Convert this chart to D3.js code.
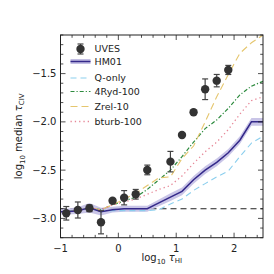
<!DOCTYPE html>
<html lang="en">
<head>
<meta charset="UTF-8">
<title>median tau CIV</title>
<script src="https://cdn.jsdelivr.net/npm/d3@7"></script>
<style>
  html, body { margin: 0; background: #fff; }
  svg { display: block; font-family: "DejaVu Sans", sans-serif; }
</style>
</head>
<body>
<svg id="chart" width="274" height="274"></svg>
<script>
// UVES observations
const uvesX = [-0.9, -0.7, -0.5, -0.3, -0.1, 0.1, 0.3, 0.5, 0.9, 1.1, 1.3, 1.5, 1.7, 1.9];
const uvesY = [-2.947, -2.913, -2.895, -3.04, -2.817, -2.786, -2.75, -2.498, -2.412, -2.136, -1.90, -1.662, -1.573, -1.462];
const uvesErr = [0.07, 0.083, 0.035, 0.12, 0.02, 0.074, 0.05, 0.05, 0.106, 0.02, 0.02, 0.107, 0.064, 0.047];

// model curves share one x grid
const modelX = [-1.0, -0.9, -0.7, -0.5, -0.3, -0.1, 0.1, 0.3, 0.5, 0.7, 0.9, 1.1, 1.3, 1.5, 1.7, 1.9, 2.1, 2.3, 2.5];
const hm01 = [-2.93, -2.93, -2.92, -2.89, -2.93, -2.91, -2.90, -2.90, -2.90, -2.84, -2.78, -2.72, -2.60, -2.50, -2.42, -2.32, -2.19, -2.00, -2.00];
const hm01Err = [0.03, 0.03, 0.035, 0.05, 0.04, 0.03, 0.03, 0.03, 0.03, 0.035, 0.04, 0.04, 0.04, 0.04, 0.04, 0.04, 0.04, 0.04, 0.04];
const qOnly = [-2.93, -2.93, -2.92, -2.89, -2.93, -2.92, -2.92, -2.92, -2.92, -2.91, -2.85, -2.80, -2.71, -2.64, -2.57, -2.51, -2.36, -2.22, -2.15];
const ryd4 = [-2.93, -2.93, -2.92, -2.89, -2.91, -2.86, -2.82, -2.78, -2.70, -2.60, -2.50, -2.36, -2.21, -2.07, -1.98, -1.86, -1.72, -1.63, -1.58];
const zrel = [-2.93, -2.93, -2.92, -2.89, -2.91, -2.86, -2.80, -2.74, -2.66, -2.58, -2.57, -2.38, -2.25, -2.00, -1.74, -1.51, -1.29, -1.18, -1.10];
const bturb = [-2.93, -2.93, -2.92, -2.89, -2.91, -2.86, -2.83, -2.80, -2.75, -2.70, -2.66, -2.56, -2.43, -2.31, -2.21, -2.08, -1.92, -1.78, -1.74];

const refLevel = -2.9;

const xTicks = [-1, 0, 1, 2];
const yTicks = [-3.0, -2.5, -2.0, -1.5];

const svg = d3.select('#chart');
const margin = {top: 35, left: 60.5, right: 11, bottom: 36.3};
const width = 274, height = 274;
const innerWidth = width - margin.left - margin.right;
const innerHeight = height - margin.top - margin.bottom;

const x = d3.scaleLinear().domain([-1, 2.5]).range([0, innerWidth]);
const y = d3.scaleLinear().domain([-3.2, -1.1]).range([innerHeight, 0]);

const g = svg.append('g').attr('transform', `translate(${margin.left},${margin.top})`);

svg.append('defs').append('clipPath').attr('id', 'clip')
  .append('rect').attr('width', innerWidth).attr('height', innerHeight);

const plot = g.append('g').attr('clip-path', 'url(#clip)');

// reference dashed line
plot.append('line')
  .attr('x1', 0).attr('x2', innerWidth)
  .attr('y1', y(refLevel)).attr('y2', y(refLevel))
  .attr('stroke', '#222').attr('stroke-width', 1.2)
  .attr('stroke-dasharray', '6,4');

// HM01 band
const band = d3.area()
  .x((d, i) => x(modelX[i]))
  .y0((d, i) => y(hm01[i] - hm01Err[i]))
  .y1((d, i) => y(hm01[i] + hm01Err[i]));
plot.append('path').datum(hm01)
  .attr('d', band)
  .attr('fill', '#c3bfe4').attr('opacity', 0.9);

const line = d3.line().x((d, i) => x(modelX[i])).y(d => y(d));

const models = [
  {name: 'Q-only', data: qOnly, color: '#8ccfee', dash: '6,4', width: 1.1},
  {name: '4Ryd-100', data: ryd4, color: '#2e8b3f', dash: '4,2,1.2,2', width: 1.2},
  {name: 'Zrel-10', data: zrel, color: '#e5c66e', dash: '7,4', width: 1.1},
  {name: 'bturb-100', data: bturb, color: '#e68797', dash: '1.3,3', width: 1.3},
  {name: 'HM01', data: hm01, color: '#34298a', dash: null, width: 1.5}
];

models.forEach(m => {
  plot.append('path').datum(m.data)
    .attr('d', line)
    .attr('fill', 'none')
    .attr('stroke', m.color)
    .attr('stroke-width', m.width)
    .attr('stroke-dasharray', m.dash);
});

// UVES points with error bars
const pts = g.append('g');
uvesX.forEach((xv, i) => {
  const cx = x(xv), cy = y(uvesY[i]);
  const e = uvesErr[i];
  pts.append('line')
    .attr('x1', cx).attr('x2', cx)
    .attr('y1', y(uvesY[i] + e)).attr('y2', y(uvesY[i] - e))
    .attr('stroke', '#444').attr('stroke-width', 1.2);
  [uvesY[i] + e, uvesY[i] - e].forEach(v => {
    pts.append('line')
      .attr('x1', cx - 3).attr('x2', cx + 3)
      .attr('y1', y(v)).attr('y2', y(v))
      .attr('stroke', '#444').attr('stroke-width', 1.2);
  });
  pts.append('circle')
    .attr('cx', cx).attr('cy', cy).attr('r', 4.2)
    .attr('fill', '#333');
});

// frame
g.append('rect')
  .attr('width', innerWidth).attr('height', innerHeight)
  .attr('fill', 'none').attr('stroke', '#222').attr('stroke-width', 1);

// ticks, inward on all four sides
const xMinor = d3.range(-1, 2.5001, 0.2);
const yMinor = d3.range(-3.2, -1.0999, 0.1);
const tickG = g.append('g').attr('stroke', '#222').attr('stroke-width', 0.8);
xMinor.forEach(v => {
  const major = xTicks.some(t => Math.abs(t - v) < 1e-6);
  const len = major ? 5 : 2.8;
  tickG.append('line').attr('x1', x(v)).attr('x2', x(v)).attr('y1', innerHeight).attr('y2', innerHeight - len);
  tickG.append('line').attr('x1', x(v)).attr('x2', x(v)).attr('y1', 0).attr('y2', len);
});
yMinor.forEach(v => {
  const major = yTicks.some(t => Math.abs(t - v) < 1e-6);
  const len = major ? 5 : 2.8;
  tickG.append('line').attr('y1', y(v)).attr('y2', y(v)).attr('x1', 0).attr('x2', len);
  tickG.append('line').attr('y1', y(v)).attr('y2', y(v)).attr('x1', innerWidth).attr('x2', innerWidth - len);
});

const fmt = d3.format('.1f');
g.selectAll('text.xtick').data(xTicks).join('text')
  .attr('class', 'xtick')
  .attr('x', d => x(d)).attr('y', innerHeight + 14)
  .attr('text-anchor', 'middle').attr('font-size', 10).attr('fill', '#222')
  .text(d => d < 0 ? '\u2212' + Math.abs(d) : d);
g.selectAll('text.ytick').data(yTicks).join('text')
  .attr('class', 'ytick')
  .attr('x', -4).attr('y', d => y(d)).attr('dy', '0.35em')
  .attr('text-anchor', 'end').attr('font-size', 10).attr('fill', '#222')
  .text(d => '\u2212' + fmt(Math.abs(d)));

// axis labels
const xl = svg.append('text')
  .attr('x', margin.left + innerWidth / 2).attr('y', 261)
  .attr('text-anchor', 'middle').attr('font-size', 10).attr('fill', '#222');
xl.append('tspan').text('log');
xl.append('tspan').attr('font-size', 7).attr('dy', 2.5).text('10');
xl.append('tspan').attr('dy', -2.5).attr('font-style', 'italic').text(' \u03C4');
xl.append('tspan').attr('font-size', 7).attr('dy', 2).text('HI');

const yl = svg.append('text')
  .attr('transform', `translate(22,${margin.top + innerHeight / 2}) rotate(-90)`)
  .attr('text-anchor', 'middle').attr('font-size', 10).attr('fill', '#222');
yl.append('tspan').text('log');
yl.append('tspan').attr('font-size', 7).attr('dy', 2.5).text('10');
yl.append('tspan').attr('dy', -2.5).text(' median ');
yl.append('tspan').attr('font-style', 'italic').text('\u03C4');
yl.append('tspan').attr('font-size', 7).attr('dy', 2).text('CIV');

// legend
const legend = g.append('g').attr('transform', 'translate(10,14)');
const legendItems = [
  {name: 'UVES', type: 'point'},
  ...['HM01', 'Q-only', '4Ryd-100', 'Zrel-10', 'bturb-100'].map(n => ({name: n, type: 'line', m: models.find(m => m.name === n)}))
];
const rowY = [0, 12.5, 29, 42.5, 57.5, 72.5];
legendItems.forEach((it, i) => {
  const row = legend.append('g').attr('transform', `translate(0,${rowY[i]})`);
  if (it.type === 'point') {
    row.append('line').attr('x1', 10).attr('x2', 10).attr('y1', -5).attr('y2', 5).attr('stroke', '#444').attr('stroke-width', 1.2);
    row.append('line').attr('x1', 7).attr('x2', 13).attr('y1', -5).attr('y2', -5).attr('stroke', '#444').attr('stroke-width', 1.2);
    row.append('line').attr('x1', 7).attr('x2', 13).attr('y1', 5).attr('y2', 5).attr('stroke', '#444').attr('stroke-width', 1.2);
    row.append('circle').attr('cx', 10).attr('cy', 0).attr('r', 4.2).attr('fill', '#333');
  } else {
    if (it.name === 'HM01') {
      row.append('rect').attr('x', 0).attr('y', -2.5).attr('width', 20).attr('height', 5).attr('fill', '#c3bfe4');
    }
    row.append('line').attr('x1', 0).attr('x2', 20).attr('y1', 0).attr('y2', 0)
      .attr('stroke', it.m.color).attr('stroke-width', it.m.width)
      .attr('stroke-dasharray', it.m.dash);
  }
  row.append('text').attr('x', 24).attr('y', 0).attr('dy', '0.35em')
    .attr('font-size', 9.5).attr('fill', '#222').text(it.name);
});
</script>
</body>
</html>
